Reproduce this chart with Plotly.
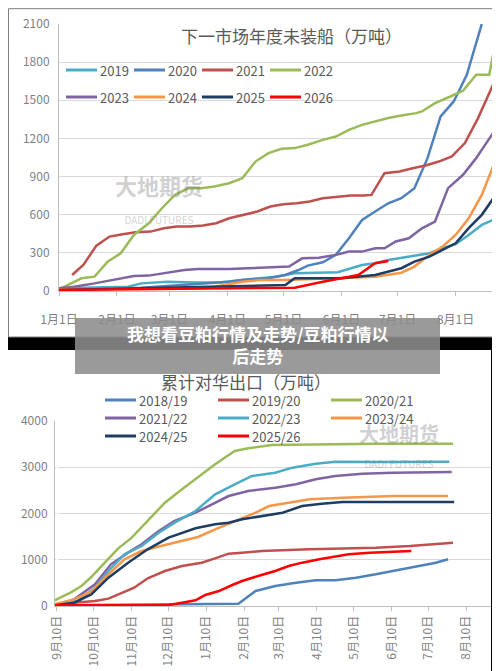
import plotly.graph_objects as go

# top chart: days since Jan 1
top_ticks = [0, 31, 59, 90, 120, 151, 181, 212]
top_labels = ["1月1日", "2月1日", "3月1日", "4月1日", "5月1日", "6月1日", "7月1日", "8月1日"]

d2019 = [0, 37, 44, 58, 73, 87, 98, 116, 126, 149, 162, 169, 176, 187, 198, 205, 212, 219, 226, 232]
v2019 = [21, 34, 60, 73, 66, 68, 87, 113, 139, 147, 205, 218, 244, 270, 297, 336, 368, 441, 520, 559]
d2020 = [0, 44, 91, 98, 112, 121, 128, 133, 141, 148, 155, 162, 169, 176, 183, 190, 197, 204, 211, 218, 226]
v2020 = [13, 26, 73, 87, 100, 126, 165, 200, 226, 284, 415, 559, 625, 690, 730, 808, 1045, 1373, 1491, 1701, 2100]
d2021 = [7, 13, 20, 27, 34, 41, 49, 56, 63, 70, 77, 84, 91, 99, 106, 113, 120, 127, 134, 141, 149, 156, 163, 167, 174,
         182, 189, 196, 203, 210, 217, 224, 232]
v2021 = [126, 205, 357, 428, 446, 462, 467, 493, 507, 507, 515, 533, 572, 599, 625, 664, 683, 690, 704, 730, 743, 751,
         751, 756, 927, 940, 966, 987, 1018, 1058, 1163, 1360, 1622]
d2022 = [1, 12, 19, 26, 33, 40, 48, 55, 62, 69, 76, 83, 91, 98, 105, 112, 119, 126, 133, 141, 148, 155, 162, 169, 176,
         183, 191, 194, 201, 208, 216, 223, 230, 232]
v2022 = [21, 100, 113, 231, 297, 441, 533, 651, 756, 808, 808, 822, 848, 887, 1018, 1084, 1118, 1124, 1150, 1189, 1215,
         1268, 1307, 1334, 1360, 1381, 1399, 1412, 1478, 1522, 1575, 1701, 1701, 1858]
d2023 = [0, 8, 19, 26, 33, 40, 48, 58, 67, 74, 83, 91, 101, 116, 123, 130, 139, 148, 155, 162, 169, 174, 180, 187, 194,
         201, 208, 216, 223, 232]
v2023 = [21, 34, 60, 79, 94, 118, 121, 147, 165, 173, 171, 173, 179, 184, 192, 257, 262, 284, 310, 310, 336, 336, 389,
         415, 493, 546, 809, 914, 1045, 1242]
d2024 = [0, 80, 98, 108, 121, 133, 151, 169, 183, 190, 198, 205, 212, 219, 226, 232]
v2024 = [13, 26, 73, 87, 87, 94, 100, 113, 144, 192, 284, 349, 441, 572, 756, 979]
d2025 = [0, 98, 121, 126, 151, 169, 183, 190, 198, 205, 212, 219, 226, 232]
v2025 = [8, 42, 47, 100, 100, 126, 179, 231, 270, 323, 375, 494, 599, 725]
d2026 = [0, 126, 141, 151, 160, 169, 176]
v2026 = [8, 26, 73, 100, 126, 218, 236]

# bottom chart: days since Sep 10
bot_ticks = [0, 30, 61, 91, 122, 153, 181, 212, 242, 273, 303, 334]
bot_labels = ["9月10日", "10月10日", "11月10日", "12月10日", "1月10日", "2月10日", "3月10日",
              "4月10日", "5月10日", "6月10日", "7月10日", "8月10日"]

d1819 = [-2, 148, 162, 178, 195, 211, 227, 244, 260, 274, 288, 298, 309, 319]
v1819 = [14, 50, 324, 432, 504, 555, 555, 613, 685, 757, 829, 865, 937, 1009]
d1920 = [-2, 31, 42, 52, 63, 74, 88, 102, 118, 129, 140, 151, 167, 206, 260, 288, 323]
v1920 = [36, 108, 159, 267, 396, 598, 757, 865, 937, 1031, 1131, 1153, 1189, 1225, 1261, 1297, 1369]
d2021b = [-2, 11, 20, 28, 39, 50, 61, 74, 88, 102, 115, 129, 145, 156, 175, 206, 260, 323]
v2021b = [123, 288, 432, 627, 937, 1247, 1477, 1838, 2234, 2522, 2775, 3063, 3351, 3409, 3481, 3495, 3510, 3510]
d2122 = [-2, 14, 31, 44, 58, 69, 83, 96, 113, 124, 140, 156, 178, 195, 211, 227, 249, 274, 322]
v2122 = [22, 144, 468, 901, 1153, 1333, 1622, 1838, 2018, 2162, 2378, 2486, 2558, 2631, 2739, 2811, 2861, 2883, 2897]
d2223 = [-2, 17, 31, 42, 55, 69, 83, 96, 113, 129, 145, 159, 178, 192, 211, 227, 274, 320]
v2223 = [14, 108, 396, 757, 1117, 1297, 1585, 1802, 2054, 2414, 2631, 2811, 2883, 2991, 3077, 3121, 3113, 3121]
d2324 = [-2, 14, 28, 42, 55, 69, 88, 102, 115, 129, 145, 162, 173, 189, 206, 233, 274, 319]
v2324 = [36, 144, 310, 685, 1009, 1189, 1319, 1405, 1492, 1657, 1838, 2018, 2162, 2234, 2306, 2342, 2378, 2378]
d2425 = [-2, 14, 28, 42, 58, 74, 91, 113, 129, 140, 151, 167, 184, 200, 216, 233, 324]
v2425 = [14, 72, 252, 613, 937, 1225, 1477, 1680, 1766, 1802, 1874, 1946, 2018, 2162, 2212, 2248, 2248]
d2526 = [-2, 91, 102, 113, 121, 132, 143, 151, 164, 178, 189, 200, 214, 225, 238, 255, 274, 289]
v2526 = [14, 22, 72, 123, 238, 324, 454, 541, 649, 757, 865, 937, 1009, 1059, 1117, 1153, 1175, 1189]

C_CYAN, C_BLUE, C_BROWN, C_GREEN = "#4bacc6", "#4f81bd", "#c0504d", "#9bbb59"
C_PURPLE, C_ORANGE, C_NAVY, C_RED = "#8064a2", "#f79646", "#1f3c63", "#ff0000"

fig = go.Figure()
grey = "#595959"
H = 671.0
shapes = []


def legend_entry(name, color, lx, ly_px):
    # hand-drawn legend entry: short line plus label
    ly = 1 - ly_px / H
    shapes.append(dict(type="line", xref="paper", yref="paper", x0=lx / 500, x1=(lx + 31) / 500, y0=ly, y1=ly,
                       line=dict(color=color, width=3)))
    fig.add_annotation(x=(lx + 32) / 500, y=ly, xref="paper", yref="paper", xanchor="left", yanchor="middle",
                       showarrow=False, text=name, font=dict(size=13, color=grey))


top = [("2019", d2019, v2019, C_CYAN), ("2020", d2020, v2020, C_BLUE), ("2021", d2021, v2021, C_BROWN),
       ("2022", d2022, v2022, C_GREEN), ("2023", d2023, v2023, C_PURPLE), ("2024", d2024, v2024, C_ORANGE),
       ("2025", d2025, v2025, C_NAVY), ("2026", d2026, v2026, C_RED)]
for i, (name, x, y, c) in enumerate(top):
    fig.add_trace(go.Scatter(x=x, y=y, name=name, mode="lines", line=dict(color=c, width=2.5),
                             xaxis="x", yaxis="y", showlegend=False))
    legend_entry(name, c, 58 + 68 * (i % 4), 62 + 27 * (i // 4))

bot = [("2018/19", d1819, v1819, C_BLUE), ("2019/20", d1920, v1920, C_BROWN), ("2020/21", d2021b, v2021b, C_GREEN),
       ("2021/22", d2122, v2122, C_PURPLE), ("2022/23", d2223, v2223, C_CYAN), ("2023/24", d2324, v2324, C_ORANGE),
       ("2024/25", d2425, v2425, C_NAVY), ("2025/26", d2526, v2526, C_RED)]
for i, (name, x, y, c) in enumerate(bot):
    fig.add_trace(go.Scatter(x=x, y=y, name=name, mode="lines", line=dict(color=c, width=2.5),
                             xaxis="x2", yaxis="y2", showlegend=False))
    legend_entry(name, c, 97 + 113 * (i % 3), 392 + 18 * (i // 3))

tick_font = dict(family="Noto Sans CJK SC", size=12, color="#7f7f7f")

fig.update_layout(
    width=500, height=671, margin=dict(l=0, r=0, t=0, b=0, autoexpand=False),
    paper_bgcolor="white", plot_bgcolor="white", showlegend=False,
    font=dict(family="Noto Sans CJK SC", color=grey),
    xaxis=dict(domain=[51 / 500, 485 / 500], range=[0, 232], tickvals=top_ticks, ticktext=top_labels,
               tickfont=tick_font, showgrid=False, showline=True, linecolor="#bfbfbf", ticks="outside",
               ticklen=4, tickcolor="#bfbfbf", ticklabelstandoff=14, anchor="y", automargin=False),
    yaxis=dict(domain=[1 - 283 / H, 1 - 16 / H], range=[0, 2100], tickvals=[0, 300, 600, 900, 1200, 1500, 1800, 2100],
               tickfont=tick_font, gridcolor="#d9d9d9", showline=True, linecolor="#bfbfbf", zeroline=False,
               anchor="x", automargin=False, ticklabelstandoff=6),
    xaxis2=dict(domain=[47 / 500, 483 / 500], range=[-1.6, 354], tickvals=bot_ticks, ticktext=bot_labels,
                tickangle=-90, tickfont=tick_font, showgrid=False, showline=True, linecolor="#bfbfbf",
                ticks="outside", ticklen=4, tickcolor="#bfbfbf", anchor="y2", automargin=False),
    yaxis2=dict(domain=[1 - 598 / H, 1 - 413 / H], range=[0, 4000], tickvals=[0, 1000, 2000, 3000, 4000],
                tickfont=tick_font, gridcolor="#d9d9d9", showline=True, linecolor="#bfbfbf", zeroline=False,
                anchor="x2", automargin=False, ticklabelstandoff=4),
)

shapes += [
    dict(type="rect", xref="paper", yref="paper", x0=0, x1=1, y0=1 - 342 / H, y1=1 - 329 / H,
         fillcolor="black", line_width=0, layer="above"),
    dict(type="rect", xref="paper", yref="paper", x0=483 / 500, x1=1, y0=0, y1=1 - 342 / H,
         fillcolor="black", line_width=0, layer="above"),
    dict(type="rect", xref="paper", yref="paper", x0=0.001, x1=0.999, y0=1 - 329 / H, y1=0.999,
         fillcolor="rgba(0,0,0,0)", line=dict(color="#7f7f7f", width=1), layer="above"),
    dict(type="rect", xref="paper", yref="paper", x0=67 / 500, x1=432 / 500, y0=1 - 366 / H, y1=1 - 310 / H,
         fillcolor="rgba(140,140,140,0.88)", line_width=0, layer="above"),
]
fig.update_layout(shapes=shapes)

fig.add_annotation(x=283 / 500, y=1 - 27 / H, xref="paper", yref="paper", yanchor="middle", showarrow=False,
                   text="下一市场年度未装船（万吨）", font=dict(size=17, color=grey))
fig.add_annotation(x=238 / 500, y=1 - 373 / H, xref="paper", yref="paper", yanchor="middle", showarrow=False,
                   text="累计对华出口（万吨）", font=dict(size=17, color=grey))
fig.add_annotation(x=250 / 500, y=1 - 336 / H, xref="paper", yref="paper", yanchor="middle", showarrow=False,
                   text="<b>我想看豆粕行情及走势/豆粕行情以<br>后走势</b>",
                   font=dict(size=17, color="white"))
for wx, wy, s in [(105, 190, 22), (433, 437, 20)]:
    fig.add_annotation(x=wx / 500, y=1 - wy / H, xref="paper", yref="paper", yanchor="middle", showarrow=False,
                       text="<b>大地期货</b><br><span style='font-size:10px'>DADI FUTURES</span>",
                       font=dict(size=s, color="rgba(120,120,120,0.35)"))

fig.write_html("out.html")
